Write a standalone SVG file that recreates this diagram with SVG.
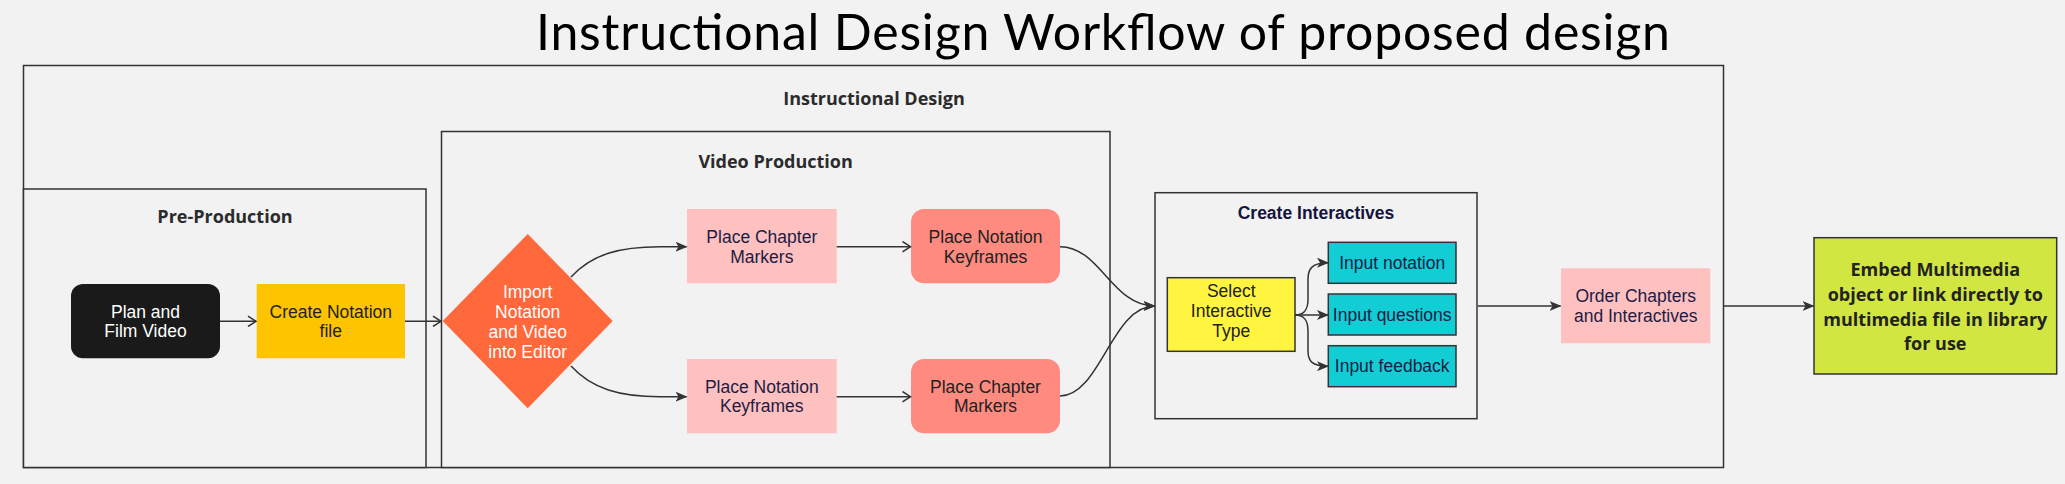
<svg xmlns="http://www.w3.org/2000/svg" width="2065" height="484" viewBox="0 0 2065 484">
  <style>
    .bg { fill: #f2f2f2; }
    .container { fill: #f2f2f2; stroke: #333333; stroke-width: 1.5; }
    .clabel { font-family: "Open Sans", "Noto Sans", sans-serif; font-weight: 700; font-size: 18px; fill: #2b2b2b; text-anchor: middle; }
    .elabel { font-family: "Open Sans", "Noto Sans", sans-serif; font-weight: 700; font-size: 18px; fill: #222222; text-anchor: middle; }
    .ntext { font-family: "Liberation Sans", Arial, sans-serif; font-size: 17.5px; text-anchor: middle; }
    .navy { fill: #1c1c44; }
    .dark { fill: #222222; }
    .white { fill: #ffffff; }
    .conn { fill: none; stroke: #333333; stroke-width: 1.5; }
    .pink { fill: #ffc0c0; }
    .salmon { fill: #ff8b80; }
    .cyan { fill: #12cdd4; stroke: #333333; stroke-width: 1.5; }
  </style>
  <defs>
    <marker id="filled" viewBox="0 0 12 10" refX="11" refY="5" markerWidth="12" markerHeight="10" markerUnits="userSpaceOnUse" orient="auto">
      <path d="M0,0 L12,5 L0,10 L3,5 Z" fill="#333333"/>
    </marker>
    <marker id="open" viewBox="0 0 10 12" refX="9" refY="6" markerWidth="10" markerHeight="12" markerUnits="userSpaceOnUse" orient="auto">
      <path d="M1,0.8 L9,6 L1,11.2" fill="none" stroke="#333333" stroke-width="1.5"/>
    </marker>
  </defs>

  <rect class="bg" x="0" y="0" width="2065" height="484"/>

  <g id="title">
    <text x="536" y="50" textLength="1134" font-family="Lato, 'Noto Sans', sans-serif" font-size="50" fill="#000000">Instructional Design Workflow of proposed design</text>
  </g>

  <g id="instructional-design">
    <rect class="container" x="23.5" y="65.5" width="1700" height="402"/>
    <text class="clabel" x="874" y="105">Instructional Design</text>
  </g>

  <g id="pre-production">
    <rect class="container" x="23.5" y="189" width="402.5" height="278.5"/>
    <text class="clabel" x="225" y="222.7">Pre-Production</text>
  </g>

  <g id="video-production">
    <rect class="container" x="441.5" y="131.5" width="668.5" height="336"/>
    <text class="clabel" x="775.6" y="167.7">Video Production</text>
  </g>

  <g id="create-interactives">
    <rect class="container" x="1155" y="192.7" width="322" height="226"/>
    <text x="1316" y="219.3" font-family="'Liberation Sans', Arial, sans-serif" font-weight="700" font-size="17.5" fill="#14143c" text-anchor="middle">Create Interactives</text>
  </g>

  <g id="plan-film">
    <rect x="71" y="284" width="149" height="74.3" rx="12" fill="#1a1a1a"/>
    <text class="ntext white" x="145.5" y="317.7">Plan and</text>
    <text class="ntext white" x="145.5" y="337.3">Film Video</text>
  </g>

  <g id="create-notation">
    <rect x="256.7" y="284" width="148.3" height="74.3" fill="#ffc400"/>
    <text class="ntext dark" x="330.8" y="317.7">Create Notation</text>
    <text class="ntext dark" x="330.8" y="337.3">file</text>
  </g>

  <g id="import">
    <polygon points="527.7,234 612.7,321 527.7,408.3 442.7,321" fill="#ff683b"/>
    <text class="ntext white" x="527.7" y="297.7">Import</text>
    <text class="ntext white" x="527.7" y="317.7">Notation</text>
    <text class="ntext white" x="527.7" y="337.7">and Video</text>
    <text class="ntext white" x="527.7" y="357.7">into Editor</text>
  </g>

  <g id="place-chapter-top">
    <rect class="pink" x="687" y="209" width="149.7" height="74.3"/>
    <text class="ntext navy" x="761.8" y="243.3">Place Chapter</text>
    <text class="ntext navy" x="761.8" y="262.7">Markers</text>
  </g>

  <g id="place-notation-top">
    <rect class="salmon" x="911" y="209" width="149" height="74.3" rx="13"/>
    <text class="ntext dark" x="985.5" y="243.3">Place Notation</text>
    <text class="ntext dark" x="985.5" y="262.7">Keyframes</text>
  </g>

  <g id="place-notation-bottom">
    <rect class="pink" x="687" y="359" width="149.7" height="74.3"/>
    <text class="ntext navy" x="761.8" y="392.7">Place Notation</text>
    <text class="ntext navy" x="761.8" y="412.3">Keyframes</text>
  </g>

  <g id="place-chapter-bottom">
    <rect class="salmon" x="911" y="359" width="149" height="74.3" rx="13"/>
    <text class="ntext dark" x="985.5" y="392.7">Place Chapter</text>
    <text class="ntext dark" x="985.5" y="412.3">Markers</text>
  </g>

  <g id="select-type">
    <rect x="1167.3" y="277.7" width="127.7" height="73.6" fill="#fff540" stroke="#333333" stroke-width="1.5"/>
    <text class="ntext dark" x="1231.2" y="296.7">Select</text>
    <text class="ntext dark" x="1231.2" y="316.7">Interactive</text>
    <text class="ntext dark" x="1231.2" y="336.7">Type</text>
  </g>

  <g id="input-notation">
    <rect class="cyan" x="1328.3" y="242.3" width="127.7" height="41"/>
    <text class="ntext navy" x="1392.2" y="269">Input notation</text>
  </g>

  <g id="input-questions">
    <rect class="cyan" x="1328.3" y="294" width="127.7" height="41"/>
    <text class="ntext navy" x="1392.2" y="320.7">Input questions</text>
  </g>

  <g id="input-feedback">
    <rect class="cyan" x="1328.3" y="345.7" width="127.7" height="41"/>
    <text class="ntext navy" x="1392.2" y="372.4">Input feedback</text>
  </g>

  <g id="order-chapters">
    <rect class="pink" x="1561" y="268.3" width="149.3" height="75"/>
    <text class="ntext navy" x="1635.7" y="301.7">Order Chapters</text>
    <text class="ntext navy" x="1635.7" y="321.7">and Interactives</text>
  </g>

  <g id="embed">
    <rect x="1814" y="237.7" width="242.7" height="136.3" fill="#d1e641" stroke="#333333" stroke-width="1.5"/>
    <text class="elabel" x="1935.3" y="275.7">Embed Multimedia</text>
    <text class="elabel" x="1935.3" y="300.7">object or link directly to</text>
    <text class="elabel" x="1935.3" y="325.7">multimedia file in library</text>
    <text class="elabel" x="1935.3" y="350.4">for use</text>
  </g>

  <g id="connectors">
    <path class="conn" d="M220,321.3 L256,321.3" marker-end="url(#open)"/>
    <path class="conn" d="M405,321.3 L441,321.3" marker-end="url(#open)"/>
    <path class="conn" d="M571,277 C592,254 620,246.7 660,246.7 L686.5,246.7" marker-end="url(#filled)"/>
    <path class="conn" d="M571,366 C592,389 620,396.7 660,396.7 L686.5,396.7" marker-end="url(#filled)"/>
    <path class="conn" d="M836.7,246.7 L910.5,246.7" marker-end="url(#open)"/>
    <path class="conn" d="M836.7,396.7 L910.5,396.7" marker-end="url(#open)"/>
    <path class="conn" d="M1060,246.7 C1100,246.7 1112,306 1154.5,306" marker-end="url(#filled)"/>
    <path class="conn" d="M1060,396 C1100,396 1112,306 1154.5,306" marker-end="url(#filled)"/>
    <path class="conn" d="M1295,315 C1305,315 1308,309 1308,299 L1308,279 C1308,269 1312,262.7 1328,262.7" marker-end="url(#filled)"/>
    <path class="conn" d="M1295,315 L1328,315" marker-end="url(#filled)"/>
    <path class="conn" d="M1295,315 C1305,315 1308,321 1308,331 L1308,351 C1308,361 1312,366.2 1328,366.2" marker-end="url(#filled)"/>
    <path class="conn" d="M1478,306 L1560.5,306" marker-end="url(#filled)"/>
    <path class="conn" d="M1724,306 L1813.5,306" marker-end="url(#filled)"/>
  </g>
</svg>
